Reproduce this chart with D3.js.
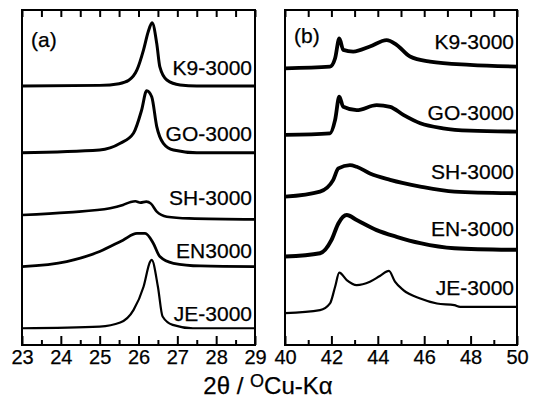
<!DOCTYPE html>
<html>
<head>
<meta charset="utf-8">
<title>XRD</title>
<script src="https://d3js.org/d3.v7.min.js"></script>
<style>
  body { margin: 0; background: #fff; }
  text { font-family: "Liberation Sans", Arial, sans-serif; fill: #000; stroke: #000; stroke-width: 0.25px; }
</style>
</head>
<body>
<div id="chart"></div>
<script>
// curve labels (top to bottom)
const labelsA = ["K9-3000", "GO-3000", "SH-3000", "EN3000", "JE-3000"];
const labelsB = ["K9-3000", "GO-3000", "SH-3000", "EN-3000", "JE-3000"];
// label heights (stacked intensity units, a.u.)
const labelYA = [80.6, 60.9, 41.8, 26.0, 7.2];
const labelYB = [88.4, 67.2, 49.6, 32.5, 14.9];

// panel (a): 2theta 23-29, stacked intensity (a.u.)
const aK9 = [[23,77.3],[25,77.5],[25.5,78.0],[25.75,79.0],[25.96,82.1],[26.13,88.1],[26.25,93.5],[26.35,96.2],[26.47,90],[26.55,83],[26.73,79.1],[27.07,77.6],[27.5,77.3],[29,77.3]];
const aGO = [[23,57.4],[25,58.2],[25.53,60.2],[25.87,63.2],[26.08,70.1],[26.21,75.9],[26.34,74.1],[26.47,65.2],[26.64,60.2],[26.9,58.2],[27.5,57.4],[29,57.4]];
const aSH = [[23,38.8],[24.2,39.6],[25.27,40.8],[25.6,41.8],[25.8,42.7],[25.92,42.9],[26.05,42.5],[26.2,42.8],[26.32,42.2],[26.47,39.8],[26.73,38.3],[27.3,37.8],[29,37.5]];
const aEN = [[23,23.4],[24.15,24.9],[25.0,27.9],[25.6,31.3],[25.96,33.3],[26.17,33.3],[26.38,30.4],[26.55,26.4],[26.9,24.4],[27.6,23.6],[29,23.4]];
const aJE = [[23,5.0],[25.0,5.5],[25.53,6.7],[25.87,10.4],[26.13,17.4],[26.3,24.9],[26.34,25.4],[26.5,17.4],[26.62,8.5],[26.88,6.0],[27.4,5.0],[29,5.0]];

// panel (b): 2theta 40-50
const bK9 = [[40,82.6],[41.94,83.1],[42.16,85.6],[42.34,91.5],[42.51,88.1],[42.94,87.6],[43.66,89.1],[44.38,91.0],[44.81,89.6],[45.39,86.1],[46.25,84.6],[47.97,83.6],[50,83.1]];
const bGO = [[40,62.7],[41.94,63.2],[42.16,67.2],[42.34,74.1],[42.51,71.1],[43.09,70.1],[43.95,71.6],[44.53,71.1],[45.1,68.7],[45.83,66.2],[46.81,64.7],[47.97,64.0],[50,63.7]];
const bSH = [[40,44.3],[41.51,45.8],[42.08,49.3],[42.3,52.7],[42.8,53.7],[43.09,53.2],[43.66,51.2],[44.53,49.3],[45.83,47.3],[47.3,45.8],[50,45.3]];
const bEN = [[40,26.4],[41.51,27.4],[42.0,31.3],[42.3,36.3],[42.66,38.8],[43.09,37.3],[43.95,34.3],[44.81,32.3],[45.83,30.4],[47.3,28.9],[50,28.4]];
const bJE = [[40,9.5],[41.51,10.4],[41.94,12.4],[42.16,17.4],[42.34,21.6],[42.66,19.4],[43.09,17.9],[43.66,18.9],[44.09,20.6],[44.48,22.1],[44.74,18.9],[45.1,16.4],[45.83,13.9],[46.55,12.4],[47.3,11.9],[47.55,11.4],[50,11.4]];

const W = 538, H = 399;
const yTop = 10, yBottom = 345;

const svg = d3.select("#chart").append("svg")
    .attr("width", W).attr("height", H);

const y = d3.scaleLinear().domain([0, 100]).range([yBottom, yTop]);

function panel(opts) {
    const x = d3.scaleLinear().domain(opts.domain).range(opts.range);
    const g = svg.append("g");
    const id = "clip" + opts.name;

    svg.append("clipPath").attr("id", id)
      .append("rect")
        .attr("x", opts.range[0]).attr("y", yTop)
        .attr("width", opts.range[1] - opts.range[0])
        .attr("height", yBottom - yTop);

    const line = d3.line()
        .x(d => x(d[0]))
        .y(d => y(d[1]))
        .curve(d3.curveMonotoneX);

    g.append("g").attr("clip-path", "url(#" + id + ")")
      .selectAll("path")
      .data(opts.series)
      .enter().append("path")
        .attr("d", (d) => line(d))
        .attr("fill", "none")
        .attr("stroke", "#000")
        .attr("stroke-linejoin", "round")
        .attr("stroke-width", (d, i) => opts.widths[i]);

    // major ticks with labels (bottom)
    g.append("g")
        .attr("transform", "translate(0," + yBottom + ")")
        .call(d3.axisBottom(x).tickValues(opts.major).tickSize(-9).tickPadding(5).tickFormat(d3.format("d")))
        .call(a => a.select(".domain").remove())
        .call(a => a.selectAll("line").attr("stroke-width", 2))
        .call(a => a.selectAll("text").attr("font-size", "20px")
            .attr("font-family", "Liberation Sans, Arial, sans-serif"));

    // minor ticks (bottom)
    g.append("g")
        .attr("transform", "translate(0," + yBottom + ")")
        .call(d3.axisBottom(x).tickValues(opts.minor).tickSize(-5).tickFormat(""))
        .call(a => a.select(".domain").remove())
        .call(a => a.selectAll("line").attr("stroke-width", 2));

    // top ticks
    g.append("g")
        .attr("transform", "translate(0," + yTop + ")")
        .call(d3.axisTop(x).tickValues(opts.major.concat(opts.minor)).tickSize(-7).tickFormat(""))
        .call(a => a.select(".domain").remove())
        .call(a => a.selectAll("line").attr("stroke-width", 2));

    g.append("rect")
        .attr("x", opts.range[0]).attr("y", yTop)
        .attr("width", opts.range[1] - opts.range[0])
        .attr("height", yBottom - yTop)
        .attr("fill", "none")
        .attr("stroke", "#000")
        .attr("stroke-width", 2);

    g.selectAll(".lab")
      .data(opts.labels)
      .enter().append("text")
        .attr("class", "lab")
        .attr("x", opts.range[1] - 3)
        .attr("y", (d, i) => y(opts.labelY[i]))
        .attr("text-anchor", "end")
        .attr("font-size", "21px")
        .text(d => d);

    g.append("text")
        .attr("x", opts.range[0] + 9)
        .attr("y", opts.tagY)
        .attr("font-size", "21px")
        .text(opts.tag);
}

panel({
    name: "a", domain: [23, 29], range: [22, 255],
    series: [aK9, aGO, aSH, aEN, aJE],
    widths: [3, 3, 2.6, 2.8, 2.2],
    major: d3.range(23, 29.5, 1),
    minor: d3.range(23.5, 29, 1),
    labels: labelsA, labelY: labelYA,
    tag: "(a)", tagY: 47
});

panel({
    name: "b", domain: [40, 50], range: [285, 517],
    series: [bK9, bGO, bSH, bEN, bJE],
    widths: [3.8, 3.8, 3.8, 4, 2.2],
    major: d3.range(40, 51, 2),
    minor: d3.range(41, 50, 2),
    labels: labelsB, labelY: labelYB,
    tag: "(b)", tagY: 43
});

// axis title
const title = svg.append("text")
    .attr("x", 268).attr("y", 394)
    .attr("text-anchor", "middle")
    .attr("font-size", "24px");
title.append("tspan").text("2θ / ");
title.append("tspan").attr("font-size", "18px").attr("dy", -7).text("O");
title.append("tspan").attr("dy", 7).text("Cu-Kα");
</script>
</body>
</html>
